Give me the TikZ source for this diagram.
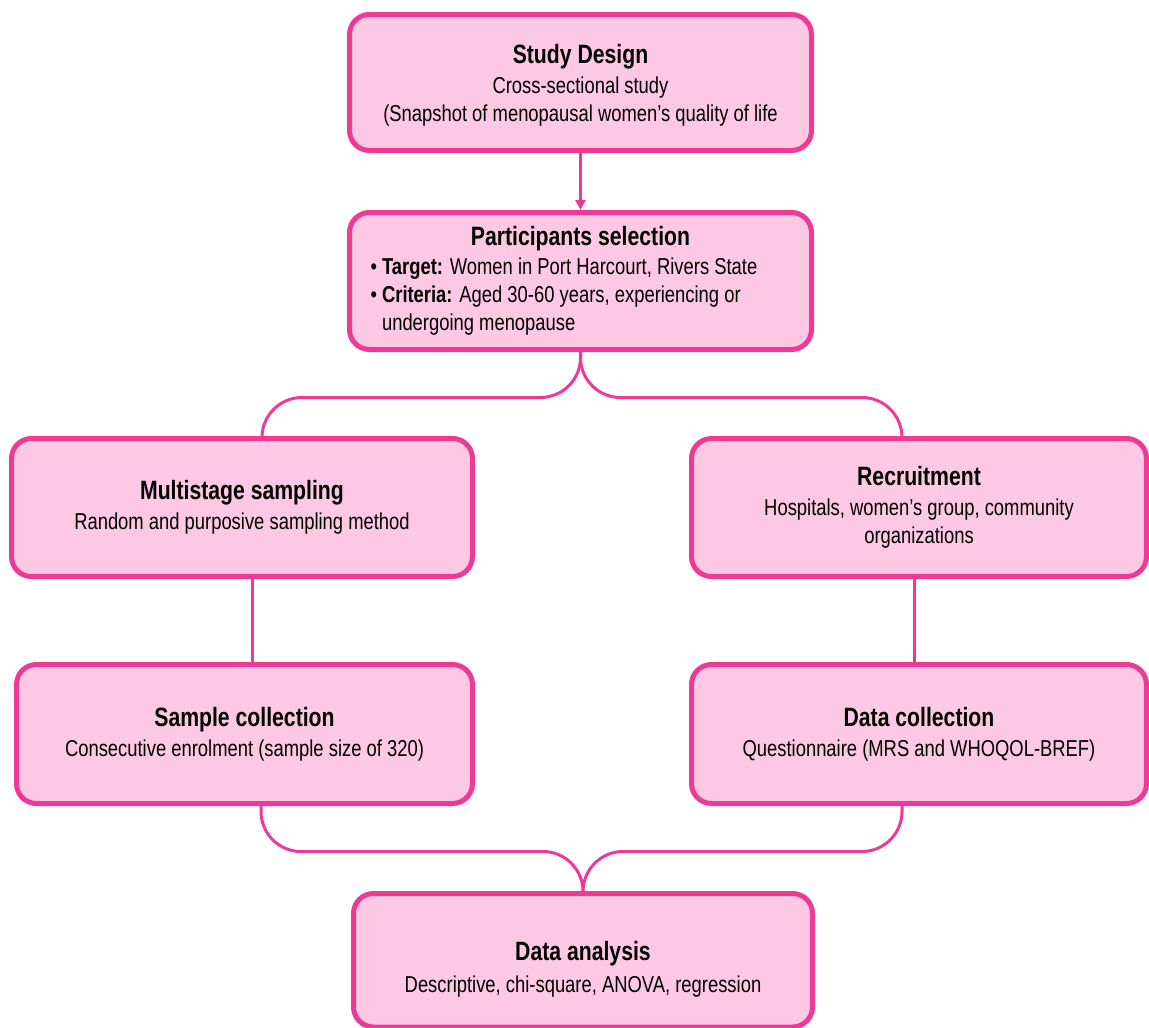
\documentclass[tikz,border=0pt]{standalone}
\usepackage{fontspec}
\setmainfont{Liberation Sans}[FakeStretch=0.80]
\usetikzlibrary{arrows.meta}
\definecolor{boxfill}{RGB}{252,200,228}
\definecolor{boxline}{RGB}{238,58,150}
\newcommand{\ttl}[1]{{\fontsize{26.5}{30}\selectfont\bfseries #1}}
\newcommand{\bodysize}{\fontsize{23}{28}\selectfont}
\begin{document}
\begin{tikzpicture}[x=1pt,y=-1pt,
  box/.style={draw=boxline, fill=boxfill, line width=5pt, rounded corners=20pt,
    inner sep=0pt, align=center, font=\bodysize},
  conn/.style={draw=boxline, line width=3pt, rounded corners=40pt},
  arr/.style={draw=boxline, line width=3pt, -{Triangle[length=10pt,width=10pt]}}]
\useasboundingbox (0,0) rectangle (1149,1028);

\node[box, minimum width=462pt, minimum height=136pt] (sd) at (580.5,82.5)
  {\rule{0pt}{24pt}\ttl{Study Design}\\[2pt] Cross-sectional study\\ (Snapshot of menopausal women’s quality of life};

\node[box, minimum width=462pt, minimum height=137pt, text width=420pt, align=flush left] (part) at (580.5,281)
  {\makebox[420pt]{\ttl{Participants selection}}\\[1pt]
   • \textbf{Target:} Women in Port Harcourt, Rivers State\\
   • \textbf{Criteria:} Aged 30-60 years, experiencing or\\
   \phantom{• }undergoing menopause};

\node[box, minimum width=461pt, minimum height=138pt] (multi) at (242,507.5)
  {\ttl{Multistage sampling}\\[2pt] Random and purposive sampling method};

\node[box, minimum width=455pt, minimum height=138pt] (rec) at (919,507.5)
  {\ttl{Recruitment}\\[2pt] Hospitals, women’s group, community\\ organizations};

\node[box, minimum width=456pt, minimum height=139pt] (samp) at (244.5,734)
  {\ttl{Sample collection}\\[2pt] Consecutive enrolment (sample size of 320)};

\node[box, minimum width=455pt, minimum height=139pt] (dc) at (919,734)
  {\ttl{Data collection}\\[2pt] Questionnaire (MRS and WHOQOL-BREF)};

\node[box, minimum width=459pt, minimum height=133.5pt] (da) at (583,960.25)
  {\rule{0pt}{38pt}\ttl{Data analysis}\\[4pt] Descriptive, chi-square, ANOVA, regression};

% connectors
\draw[arr] (sd.south) -- (part.north);
\draw[conn] (part.south) -- ++(0,45.5) -| ([xshift=20pt]multi.north);
\draw[conn] (part.south) -- ++(0,45.5) -| ([xshift=-17pt]rec.north);
\draw[conn] ([xshift=10pt]multi.south) -- ([xshift=10pt]multi.south |- samp.north);
\draw[conn] ([xshift=-5pt]rec.south) -- ([xshift=-5pt]rec.south |- dc.north);
\draw[conn] ([xshift=16.5pt]samp.south) -- ++(0,45.5) -| (da.north);
\draw[conn] ([xshift=-17pt]dc.south) -- ++(0,45.5) -| (da.north);
\end{tikzpicture}
\end{document}
